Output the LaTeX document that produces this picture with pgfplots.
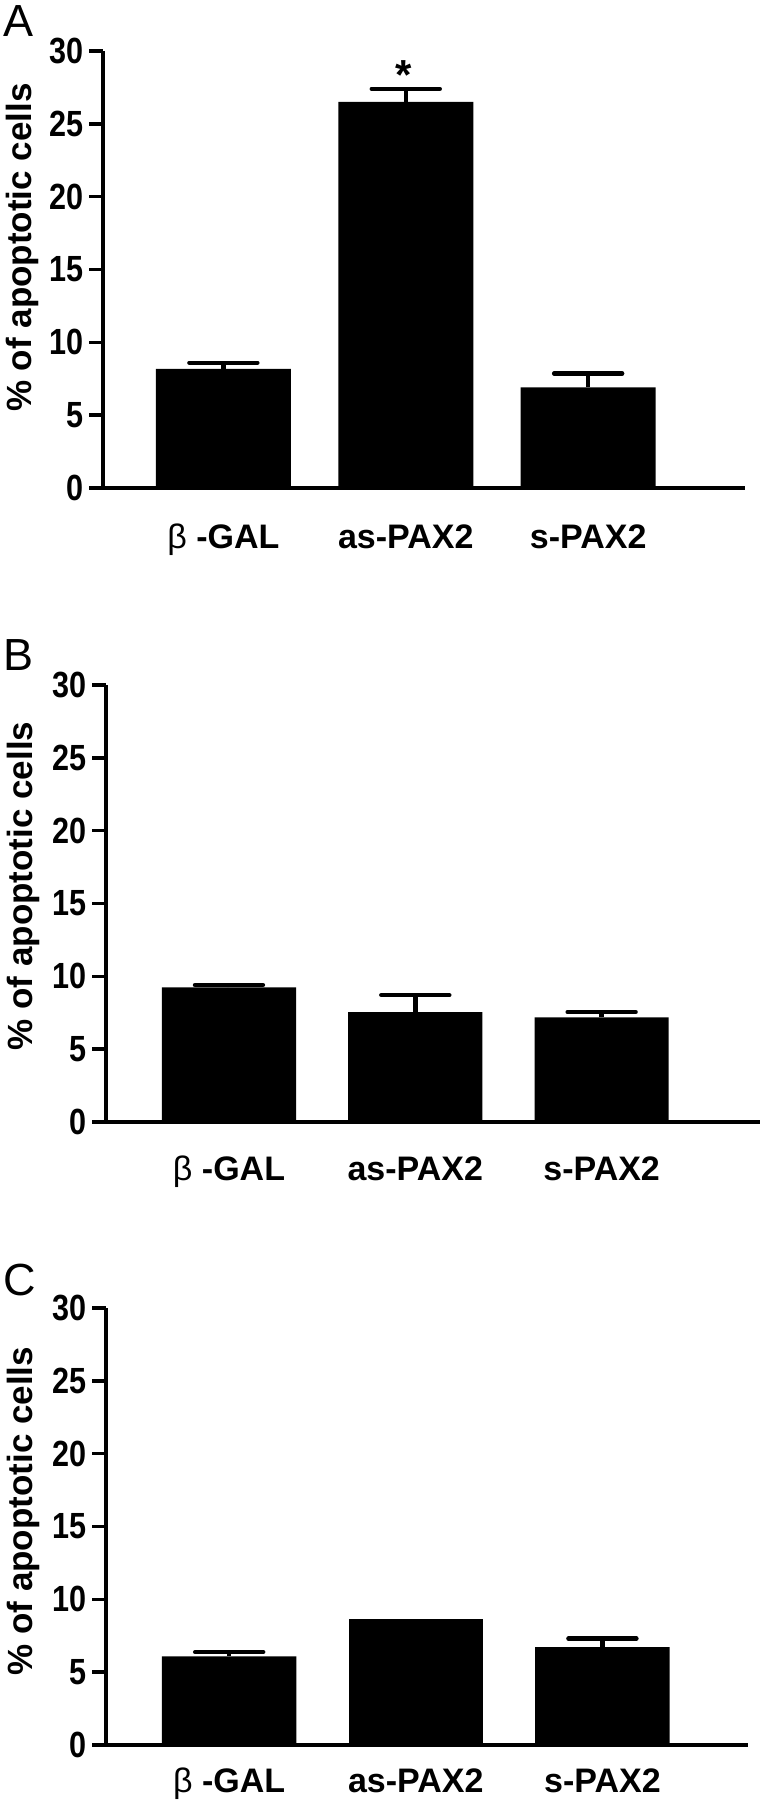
\documentclass[border=0pt]{standalone}
\usepackage{fontspec}
\setmainfont{Liberation Sans}
\newfontfamily\narrowsans[FakeStretch=0.84]{Liberation Sans}
\usepackage{pgfplots}
\pgfplotsset{compat=1.18}

\pgfplotsset{
  panel/.style={
    scale only axis,
    anchor=south west,
    height=218.5pt,
    ymin=0, ymax=30,
    ytick={0,5,...,30},
    xtick={1,2,3},
    xticklabels={{{\mdseries β} -GAL},as-PAX2,s-PAX2},
    axis x line*=bottom,
    axis y line*=left,
    axis line style={line width=2.2pt,-},
    tick align=outside,
    major tick length=7pt,
    ytick style={line width=1.8pt,black},
    xtick style={draw=none},
    /pgf/number format/assume math mode=true,
    yticklabel style={inner sep=2.5pt,font=\fontsize{18.2}{20}\narrowsans\bfseries},
    xticklabel style={anchor=base,font=\fontsize{17}{20}\selectfont\bfseries},
    ylabel={\% of apoptotic cells},
    ylabel style={anchor=base,font=\fontsize{17.5}{20}\selectfont\bfseries},
    ybar, bar shift=0pt,
    clip=false,
  },
  bars/.style={
    fill=black, draw=none,
    error bars/y dir=plus,
    error bars/y explicit,
    error bars/error bar style={line width=2.2pt,black},
    error bars/error mark options={rotate=90,line width=2.2pt,line cap=round,black,mark size=17pt},
  },
}
\tikzset{letter/.style={anchor=base west,inner sep=0pt,font=\fontsize{22.5}{26}\selectfont}}

\begin{document}
\begin{tikzpicture}
\useasboundingbox (0,0) rectangle (380pt,900pt);

% panel A
\begin{axis}[panel, at={(51.5pt,656pt)}, width=321pt,
    xmin=0.34, xmax=3.86, bar width=0.74,
    xticklabel style={yshift=-23.5pt},
    ylabel style={at={(axis description cs:-0.1106,0.55)}}]
\addplot[bars] coordinates {(1,8.18) +- (0,0.42) (2,26.5) +- (0,0.9) (3,6.91) +- (0,0.95)};
\node[letter,xshift=-50pt,yshift=7pt] at (rel axis cs:0,1) {A};
\node[anchor=base,inner sep=0pt,font=\fontsize{21}{24}\selectfont\bfseries] at (axis cs:1.99,27.35) {*};
\end{axis}

% panel B
\begin{axis}[panel, at={(53pt,339pt)}, width=327pt,
    xmin=0.34, xmax=3.85, bar width=0.72,
    xticklabel style={yshift=-22.5pt},
    ylabel style={at={(axis description cs:-0.113,0.54)}}]
\addplot[bars] coordinates {(1,9.24) +- (0,0.16) (2,7.55) +- (0,1.16) (3,7.18) +- (0,0.37)};
\node[letter,xshift=-51.5pt,yshift=7pt] at (rel axis cs:0,1) {B};
\end{axis}

% panel C
\begin{axis}[panel, at={(53pt,27.5pt)}, width=321pt,
    xmin=0.34, xmax=3.78, bar width=0.72,
    xticklabel style={yshift=-16.5pt},
    ylabel style={at={(axis description cs:-0.115,0.535)}}]
\addplot[bars] coordinates {(1,6.08) +- (0,0.30) (3,6.72) +- (0,0.58)};
\addplot[fill=black, draw=none] coordinates {(2,8.68)};
\node[letter,xshift=-51.5pt,yshift=6pt] at (rel axis cs:0,1) {C};
\end{axis}
\end{tikzpicture}
\end{document}
